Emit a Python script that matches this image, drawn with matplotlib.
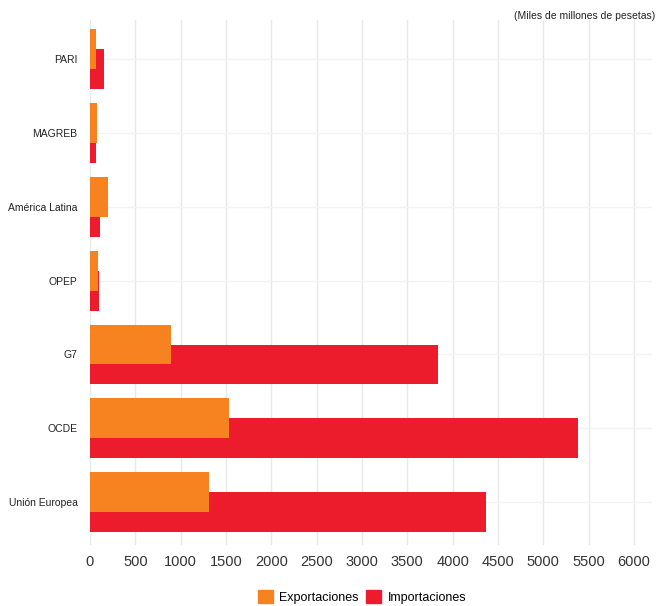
import numpy as np
import matplotlib.pyplot as plt
from matplotlib.patches import Patch

# Datos (miles de millones de pesetas)
categorias = ['PARI', 'MAGREB', 'América Latina', 'OPEP', 'G7', 'OCDE', 'Unión Europea']
exportaciones = [65, 75, 200, 90, 895, 1535, 1315]
importaciones = [155, 65, 110, 100, 3835, 5380, 4365]
ticks_x = [0, 500, 1000, 1500, 2000, 2500, 3000, 3500, 4000, 4500, 5000, 5500, 6000]

col_exp = '#f6831f'
col_imp = '#ec1c2d'

plt.rcParams['font.family'] = ['Liberation Sans Narrow', 'Liberation Sans', 'DejaVu Sans']

fig = plt.figure(figsize=(6.62, 6.06), dpi=100)
ax = fig.add_axes([90 / 662, 61 / 606, 562 / 662, 525 / 606])

y = np.arange(len(categorias))
alto = 0.54
desp = 0.135

ax.barh(y + desp, importaciones, height=alto, color=col_imp, zorder=2)
ax.barh(y - desp, exportaciones, height=alto, color=col_exp, zorder=3)

ax.set_xlim(0, 6200)
ax.set_ylim(6.58, -0.53)
ax.set_xticks(ticks_x)
ax.set_xticklabels([str(t) for t in ticks_x], fontsize=10.5, color='#333333')
ax.set_yticks(y)
ax.set_yticklabels(categorias, fontsize=7.5, color='#222222')
ax.tick_params(length=0, pad=9)
ax.tick_params(axis='x', pad=7)

ax.grid(axis='x', color='#e8e8e8', lw=1, zorder=0)
ax.grid(axis='y', color='#f3f3f3', lw=1, zorder=0)
for s in ax.spines.values():
    s.set_visible(False)

fig.text(655 / 662, 1 - 16 / 606, '(Miles de millones de pesetas)', ha='right', va='center',
         fontsize=7.5, color='#222222')

handles = [Patch(color=col_exp, label='Exportaciones'), Patch(color=col_imp, label='Importaciones')]
fig.legend(handles=handles, loc='center', bbox_to_anchor=(362 / 662, 1 - 597 / 606), ncol=2,
           frameon=False, fontsize=9, handlelength=1.2, handleheight=1.2, handletextpad=0.5,
           columnspacing=0.6)

fig.savefig('out.png', dpi=100)
